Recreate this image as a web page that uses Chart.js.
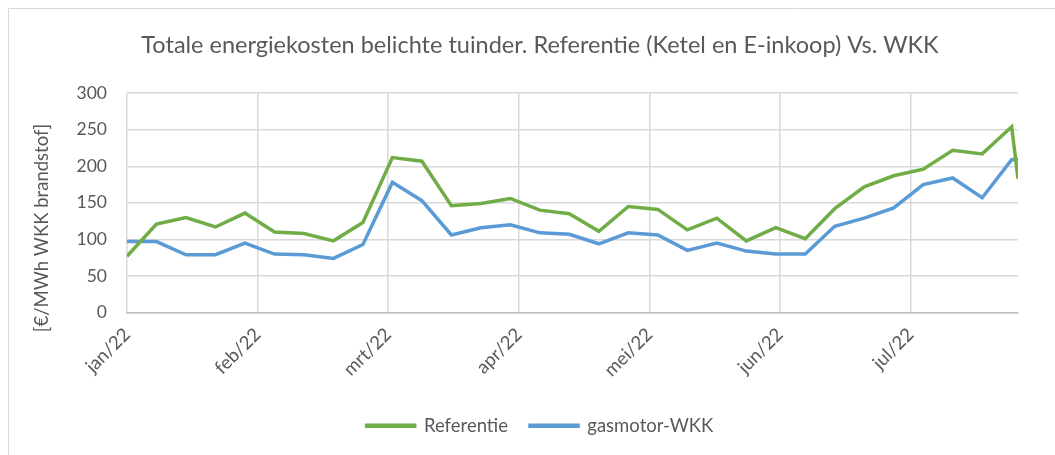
<!DOCTYPE html>
<html>
<head>
<meta charset="utf-8">
<script src="https://cdn.jsdelivr.net/npm/chart.js@4"></script>
<style>
  html, body { margin: 0; padding: 0; background: #fff; }
  #wrap { width: 1055px; height: 455px; position: relative; }
</style>
</head>
<body>
<div id="wrap"><canvas id="costChart" width="1055" height="455"></canvas></div>
<script>
// days since 1 jan 2022 (weekly values, last one at end of jul)
const days = [0, 7, 14, 21, 28, 35, 42, 49, 56, 63, 70, 77, 84, 91, 98, 105,
  112, 119, 126, 133, 140, 147, 154, 161, 168, 175, 182, 189, 196, 203, 210, 211.5];

const referentie = [77, 121, 130, 117, 136, 110, 108, 98, 123, 212, 207, 146, 149, 156, 140, 135,
  111, 145, 141, 113, 129, 98, 116, 101, 142, 172, 187, 196, 222, 217, 254, 183];

const gasmotorWkk = [97, 97, 79, 79, 95, 80, 79, 74, 93, 178, 153, 106, 116, 120, 109, 107,
  94, 109, 106, 85, 95, 84, 80, 80, 118, 129, 143, 175, 184, 157, 209, 210];

// axis ticks every 31 days, like the original sheet
const monthTicks = [0, 31, 62, 93, 124, 155, 186];
const monthLabels = ["jan/22", "feb/22", "mrt/22", "apr/22", "mei/22", "jun/22", "jul/22"];

const yTitle = "[€/MWh WKK brandstof]";
const textColor = "#595959";
const gridColor = "#d9d9d9";

// frame + rotated y axis title
const extras = {
  id: "extras",
  beforeDraw(chart) {
    const ctx = chart.ctx;
    ctx.save();
    ctx.strokeStyle = gridColor;
    ctx.lineWidth = 1;
    ctx.beginPath();
    ctx.moveTo(8.5, 455);
    ctx.lineTo(8.5, 8.5);
    ctx.lineTo(1055, 8.5);
    ctx.stroke();
    ctx.restore();
  },
  afterDraw(chart) {
    const ctx = chart.ctx;
    ctx.save();
    ctx.translate(42, 228);
    ctx.rotate(-Math.PI / 2);
    ctx.fillStyle = textColor;
    ctx.font = "18.5px Lato";
    ctx.textAlign = "center";
    ctx.textBaseline = "middle";
    ctx.fillText(yTitle, 0, 0);
    ctx.restore();
  },
};

const ctx = document.getElementById("costChart");
new Chart(ctx, {
  type: "line",
  data: {
    datasets: [
      {
        label: "Referentie",
        data: days.map((d, i) => ({ x: d, y: referentie[i] })),
        borderColor: "#70ad47",
        backgroundColor: "#70ad47",
        borderWidth: 3.5,
        pointRadius: 0,
        tension: 0,
      },
      {
        label: "gasmotor-WKK",
        data: days.map((d, i) => ({ x: d, y: gasmotorWkk[i] })),
        borderColor: "#5b9bd5",
        backgroundColor: "#5b9bd5",
        borderWidth: 3.5,
        pointRadius: 0,
        tension: 0,
      },
    ],
  },
  options: {
    responsive: false,
    animation: false,
    devicePixelRatio: 1,
    layout: {
      padding: { left: 62, right: 37, top: 0, bottom: 10 },
    },
    scales: {
      x: {
        type: "linear",
        min: 0,
        max: 211.5,
        afterBuildTicks: (scale) => {
          scale.ticks = monthTicks.map((v) => ({ value: v }));
        },
        afterFit: (scale) => {
          scale.height = 82;
        },
        ticks: {
          autoSkip: false,
          minRotation: 45,
          maxRotation: 45,
          padding: 11,
          color: textColor,
          font: { family: "Lato", size: 18.5 },
          callback: (value) => monthLabels[monthTicks.indexOf(value)],
        },
        grid: { color: gridColor, lineWidth: 1.5, drawTicks: false },
        border: { color: "#bfbfbf", width: 1.5 },
      },
      y: {
        min: 0,
        max: 300,
        afterFit: (scale) => {
          scale.width = 65;
        },
        ticks: {
          stepSize: 50,
          padding: 20,
          color: textColor,
          font: { family: "Lato", size: 17.5 },
        },
        grid: { color: gridColor, lineWidth: 1.5, drawTicks: false },
        border: { display: false },
      },
    },
    plugins: {
      title: {
        display: true,
        text: "Totale energiekosten belichte tuinder. Referentie (Ketel en E-inkoop) Vs. WKK",
        color: textColor,
        font: { family: "Lato", size: 23.5, weight: "normal" },
        padding: { top: 31, bottom: 34 },
      },
      legend: {
        position: "bottom",
        labels: {
          color: textColor,
          font: { family: "Lato", size: 18.5 },
          boxWidth: 48,
          boxHeight: 1,
          padding: 22,
        },
      },
      tooltip: { enabled: false },
    },
  },
  plugins: [extras],
});
</script>
</body>
</html>
